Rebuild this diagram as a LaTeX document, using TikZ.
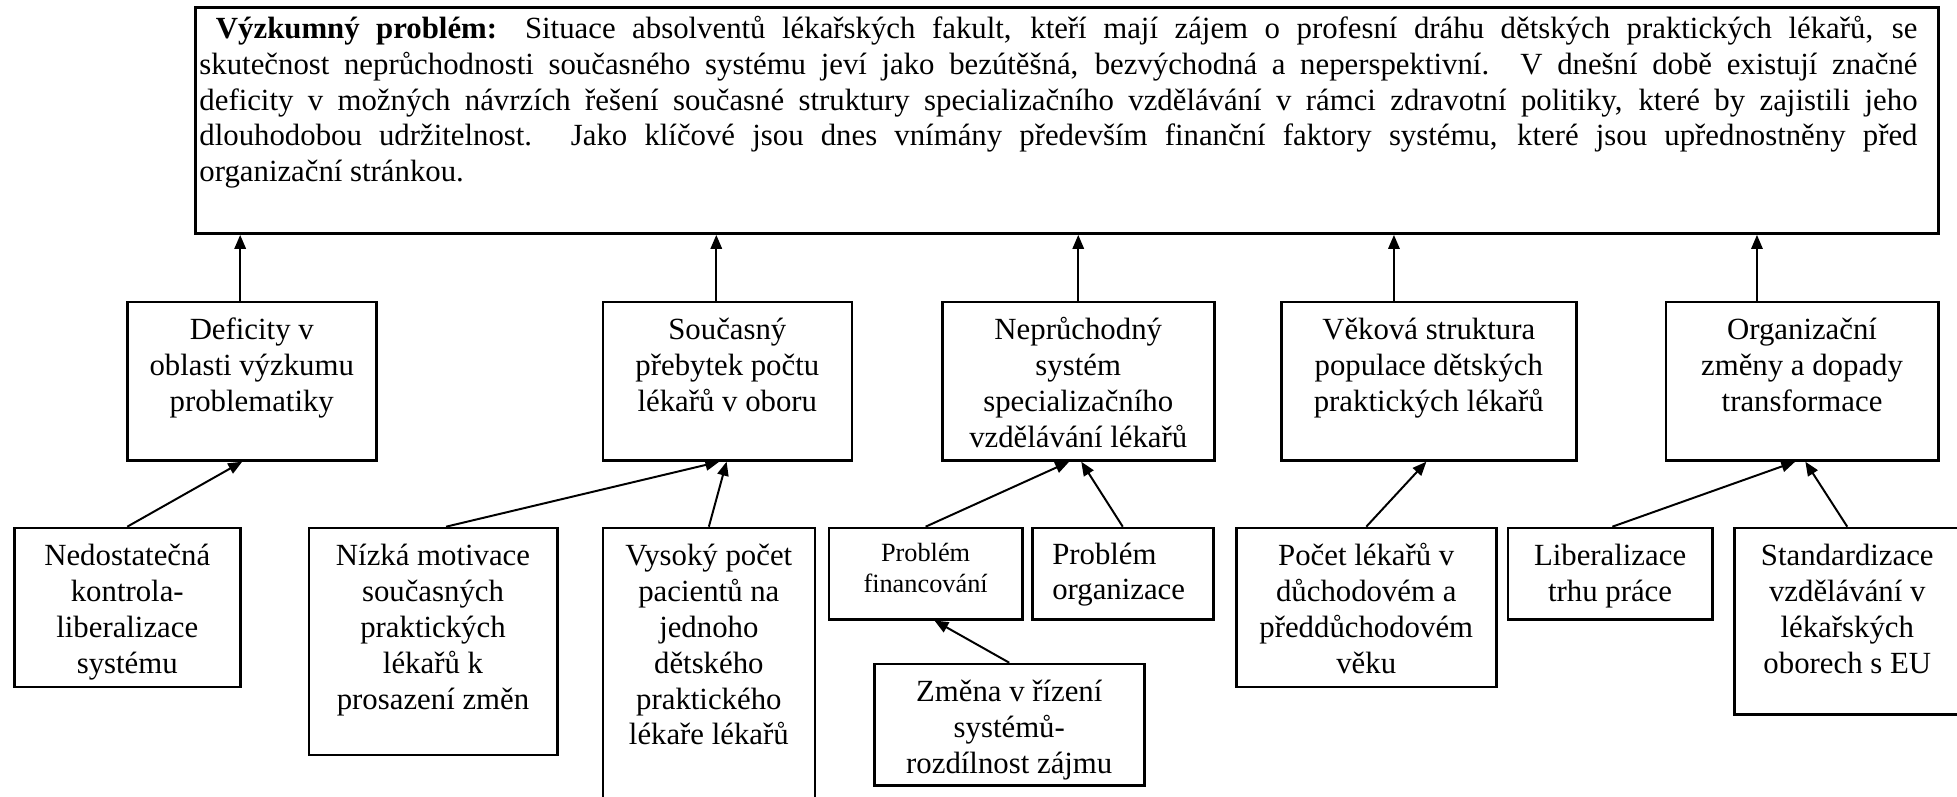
\documentclass[tikz,border=0pt]{standalone}
\usepackage{fontspec}
\setmainfont{Liberation Serif}
\usetikzlibrary{arrows.meta,calc}
\newdimen\pxu \pxu=0.38pt
% centred box text: width, height, text (first baseline 38px below top)
\newcommand\bxt[3]{\parbox[b][#2\pxu][t]{#1\pxu}{\centering\fontsize{11.7pt}{13.6pt}\selectfont\rule{0pt}{38\pxu}#3}}
\tikzset{
  bx/.style={draw, line width=0.95pt, inner sep=0pt, anchor=north west},
  arr/.style={line width=0.75pt, -{Triangle[length=5.3pt,width=4.3pt]}},
}
\begin{document}
\begin{tikzpicture}[x=0.38pt, y=-0.38pt]
\useasboundingbox (0,0) rectangle (1957,797);
\clip (0,0) rectangle (1957,797);

% research problem
\node[bx, line width=1.1pt] (top) at (194,6) {\parbox[b][226\pxu][t]{1743\pxu}{\fontsize{11.7pt}{13.6pt}\selectfont\leftskip=4\pxu\rightskip=21\pxu\parindent=0pt
\rule{0pt}{31\pxu}\makebox[1718\pxu][s]{\ \textbf{Výzkumný problém:} Situace absolventů lékařských fakult, kteří mají zájem o profesní dráhu dětských praktických lékařů, se}\\
\makebox[1718\pxu][s]{skutečnost neprůchodnosti současného systému jeví jako bezútěšná, bezvýchodná a neperspektivní. V dnešní době existují značné}\\
\makebox[1718\pxu][s]{deficity v možných návrzích řešení současné struktury specializačního vzdělávání v rámci zdravotní politiky, které by zajistili jeho}\\
\makebox[1718\pxu][s]{dlouhodobou udržitelnost. Jako klíčové jsou dnes vnímány především finanční faktory systému, které jsou upřednostněny před}\\
organizační stránkou.}};

% upper row
\node[bx] (def)  at (126,300.7)   {\bxt{249}{158.5}{Deficity v\\oblasti výzkumu\\problematiky}};
\node[bx] (soc)  at (601.6,300.7) {\bxt{249}{158.5}{Současný\\přebytek počtu\\lékařů v oboru}};
\node[bx] (nep)  at (941,300.7)   {\bxt{272}{158.5}{Neprůchodný\\systém\\specializačního\\vzdělávání lékařů}};
\node[bx] (vek)  at (1280,300.7)  {\bxt{295}{158.5}{Věková struktura\\populace dětských\\praktických lékařů}};
\node[bx] (orgz) at (1664.6,300.7){\bxt{272.4}{158.5}{Organizační\\změny a dopady\\transformace}};

% lower row
\node[bx] (ned) at (13,526.7)    {\bxt{226}{159}{Nedostatečná\\kontrola-\\liberalizace\\systému}};
\node[bx] (niz) at (307.5,526.7) {\bxt{248.5}{227}{Nízká motivace\\současných\\praktických\\lékařů k\\prosazení změn}};
\node[bx] (vys) at (601.6,526.7) {\bxt{212}{290}{Vysoký počet\\pacientů na\\jednoho\\dětského\\praktického\\lékaře lékařů}};
\node[bx] (fin) at (827.7,526.7) {\parbox[b][91.3\pxu][t]{193.3\pxu}{\centering\fontsize{10pt}{11.6pt}\selectfont\rule{0pt}{34\pxu}Problém\\financování}};
\node[bx] (org) at (1031,526.7)  {\parbox[b][91.3\pxu][t]{181\pxu}{\fontsize{11.7pt}{13.3pt}\selectfont\leftskip=20\pxu\parindent=0pt\rule{0pt}{37\pxu}Problém\\organizace}};
\node[bx] (zme) at (873,662.7)   {\bxt{270}{121.3}{Změna v řízení\\systémů-\\rozdílnost zájmu}};
\node[bx] (poc) at (1235,526.7)  {\bxt{260}{159}{Počet lékařů v\\důchodovém a\\předdůchodovém\\věku}};
\node[bx] (lib) at (1506.6,526.7){\bxt{204.4}{91.3}{Liberalizace\\trhu práce}};
\node[bx] (std) at (1733,526.7)  {\bxt{226}{186.3}{Standardizace\\vzdělávání v\\lékařských\\oborech s EU}};

% arrows to the research problem
\path ($(def.north west)!0.454!(def.north east)$) coordinate (u1)
      ($(soc.north west)!0.456!(soc.north east)$) coordinate (u2)
      (nep.north) coordinate (u3)
      ($(vek.north west)!0.383!(vek.north east)$) coordinate (u4)
      ($(orgz.north west)!0.336!(orgz.north east)$) coordinate (u5);
\foreach \i in {1,...,5} {\draw[arr] (u\i) -- (u\i |- top.south);}

% arrows from lower row
\draw[arr] (ned.north) -- ($(def.south west)!0.462!(def.south east)$);
\draw[arr] ($(niz.north west)!0.552!(niz.north east)$) -- ($(soc.south west)!0.468!(soc.south east)$);
\draw[arr] (vys.north) -- ($(soc.south west)!0.497!(soc.south east)$);
\draw[arr] (fin.north) -- ($(nep.south west)!0.467!(nep.south east)$);
\draw[arr] (org.north) -- ($(nep.south west)!0.511!(nep.south east)$);
\draw[arr] (zme.north) -- ($(fin.south west)!0.545!(fin.south east)$);
\draw[arr] (poc.north) -- ($(vek.south west)!0.492!(vek.south east)$);
\draw[arr] ($(lib.north west)!0.511!(lib.north east)$) -- ($(orgz.south west)!0.475!(orgz.south east)$);
\draw[arr] (std.north) -- ($(orgz.south west)!0.512!(orgz.south east)$);
\end{tikzpicture}
\end{document}
